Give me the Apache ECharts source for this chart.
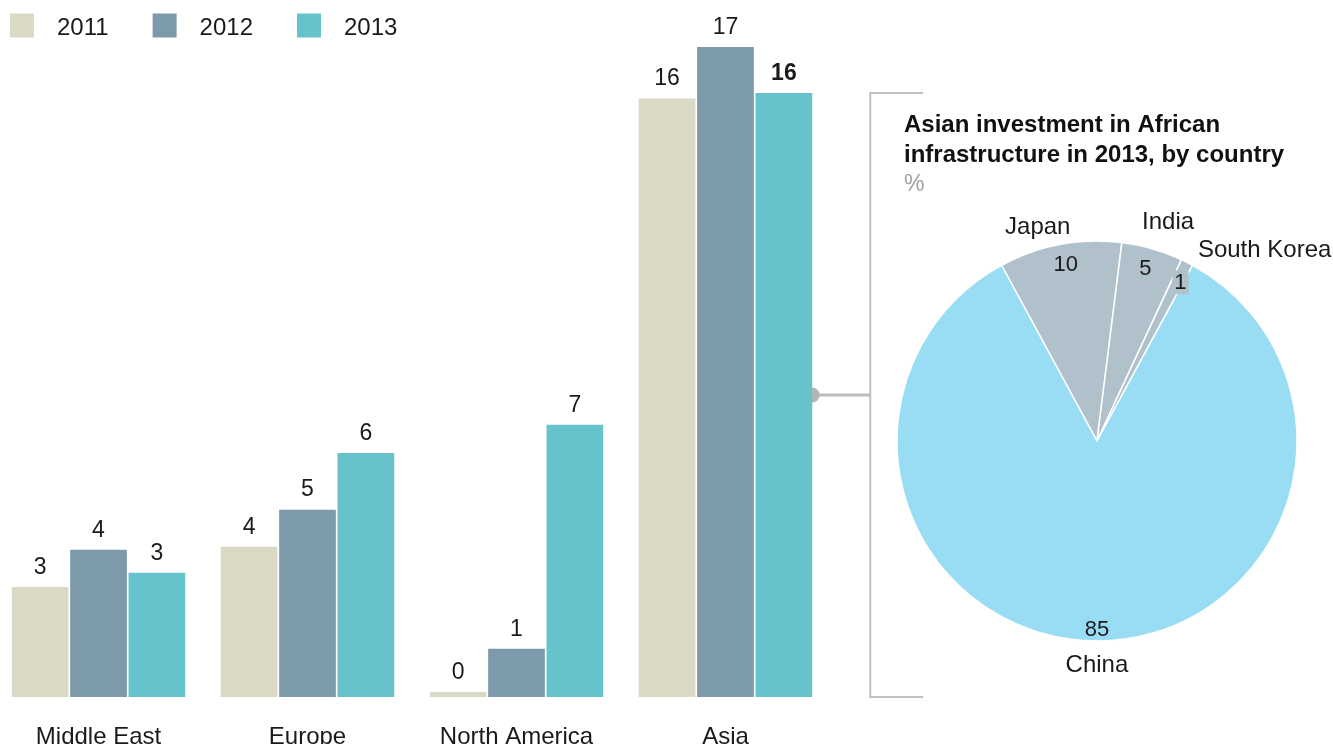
<!DOCTYPE html>
<html>
<head>
<meta charset="utf-8">
<script src="https://cdn.jsdelivr.net/npm/echarts@6/dist/echarts.min.js"></script>
<style>html,body{margin:0;padding:0;background:#fff}#c{width:1333px;height:744px}</style>
</head>
<body>
<div id="c"></div>
<script>
const regions = ['Middle East', 'Europe', 'North America', 'Asia'];
const years = ['2011', '2012', '2013'];
const v2011 = [2.88, 3.93, 0.13, 15.65];
const v2012 = [3.85, 4.9, 1.26, 17.0];
const v2013 = [3.25, 6.38, 7.12, 15.8];
const pieNames = ['Japan', 'India', 'South Korea', 'China'];
const pieValues = [10, 5, 1, 85];

const barColors = ['#d9d9c5', '#7d9aab', '#66c2cb'];
const FONT = "'Liberation Sans', Arial, sans-serif";
const gray = '#b1c1cc';
const pieColors = [gray, gray, gray, '#99ddf5'];

const chart = echarts.init(document.getElementById('c'));

function barSeries(name, vals, idx) {
  return {
    name: name, type: 'bar', barGap: '3%', barCategoryGap: '17%',
    itemStyle: { color: barColors[idx] },
    label: { show: true, position: 'top', distance: 8, fontSize: 23, color: '#1a1a1a', fontFamily: FONT,
             formatter: p => Math.round(p.value) },
    data: vals.map((v, i) => (idx === 2 && i === 3) ? { value: v, label: { fontWeight: 'bold' } } : v),
    silent: true
  };
}

const startAngle = 118.5;
// [padding left, padding right, vertical shift in px (+ down / - up)]
const nameShift = [[0, 34, 10], [16, 0, 0], [130, 0, 13], [0, 0, -4]];
const valShift = [[6, 0], [0, 6], [0, 0], [0, 0]];

function shifted(text, d) {
  if (d > 0) return '{s|}\n{t|' + text + '}';
  if (d < 0) return '{t|' + text + '}\n{s|}';
  return '{t|' + text + '}';
}
function spacerH(d) { return Math.max(1, Math.abs(d) * 2); }

chart.setOption({
  animation: false,
  textStyle: { fontFamily: FONT },
  legend: {
    left: 10, top: 9, padding: 0, itemWidth: 24, itemHeight: 24, itemGap: 44, icon: 'rect',
    formatter: name => '{s|}\n{a|' + name + '}',
    textStyle: {
      fontSize: 24, color: '#1a1a1a', fontFamily: FONT,
      rich: {
        a: { fontSize: 24, color: '#1a1a1a', fontFamily: FONT, lineHeight: 28, padding: [0, 0, 0, 18] },
        s: { fontSize: 1, lineHeight: 5, height: 5 }
      }
    },
    data: years
  },
  title: {
    left: 904, top: 110, padding: 0, itemGap: 0,
    text: 'Asian investment in African\ninfrastructure in 2013, by country',
    textStyle: { fontSize: 24, fontWeight: 'bold', color: '#111', lineHeight: 30, fontFamily: FONT },
    subtext: '%',
    subtextStyle: { fontSize: 23, color: '#a0a0a0', lineHeight: 30, fontFamily: FONT }
  },
  grid: { left: -6, width: 836, top: 47, height: 650, containLabel: false, outerBoundsMode: 'none' },
  xAxis: {
    type: 'category', data: regions,
    axisLine: { show: false }, axisTick: { show: false },
    axisLabel: { fontSize: 24, color: '#1a1a1a', margin: 28, fontFamily: FONT }
  },
  yAxis: { type: 'value', min: 0, max: 17, show: false, splitLine: { show: false } },
  series: [
    barSeries('2011', v2011, 0),
    barSeries('2012', v2012, 1),
    barSeries('2013', v2013, 2),
    {
      type: 'pie', center: [1097, 441], radius: [0, 200], startAngle: startAngle, clockwise: true,
      silent: true, label: { show: false }, labelLine: { show: false },
      itemStyle: { borderColor: '#fff', borderWidth: 1.5 },
      data: pieNames.map((n, i) => ({ name: n, value: pieValues[i], itemStyle: { color: pieColors[i] } }))
    },
    {
      type: 'pie', center: [1097, 441], radius: [165, 200], startAngle: startAngle, clockwise: true,
      silent: true, labelLine: { show: false },
      itemStyle: { color: 'rgba(0,0,0,0)' },
      label: {
        show: true, position: 'inside', fontSize: 22, color: '#1a1a1a', fontFamily: FONT,
        padding: [10, 0, 0, 0],
        formatter: p => p.dataIndex === 2 ? '{b|' + p.value + '}' : String(p.value),
        rich: { b: { fontSize: 22, color: '#1a1a1a', fontFamily: FONT, backgroundColor: gray, padding: [2, 2, 0, 2] } }
      },
      data: pieNames.map((n, i) => ({ name: n, value: pieValues[i],
        label: i === 2 ? { padding: [14, 0, 0, 0] } : (i === 3 ? { padding: [6, 0, 0, 0] } : { padding: [12, valShift[i][1], 0, valShift[i][0]] }) }))
    },
    {
      type: 'pie', center: [1097, 441], radius: [212, 238], startAngle: startAngle, clockwise: true,
      silent: true, labelLine: { show: false },
      itemStyle: { color: 'rgba(0,0,0,0)' },
      label: { show: true, position: 'inside', fontSize: 24, color: '#1a1a1a', fontFamily: FONT },
      data: pieNames.map((n, i) => ({
        name: n, value: pieValues[i],
        label: {
          formatter: shifted(n, nameShift[i][2]),
          padding: [0, nameShift[i][1], 0, nameShift[i][0]],
          rich: {
            t: { fontSize: 24, color: '#1a1a1a', fontFamily: FONT, lineHeight: 28 },
            s: { fontSize: 1, lineHeight: spacerH(nameShift[i][2]), height: spacerH(nameShift[i][2]) }
          }
        }
      }))
    }
  ]
});

// Bracket linking the Asia 2013 bar to the pie, positioned from the bar's own layout
const lay = chart.getModel().getSeriesByIndex(2).getData().getItemLayout(3);
const barRight = lay.x + lay.width;
const yTop = Math.min(lay.y, lay.y + lay.height);
const yBot = Math.max(lay.y, lay.y + lay.height);
const yMid = (yTop + yBot) / 2;
const bx = barRight + 58;
const lineStyle = { stroke: '#c0c0c0', lineWidth: 2, fill: null };
chart.setOption({
  graphic: [
    { type: 'polyline', shape: { points: [[bx + 53, yTop], [bx, yTop], [bx, yBot], [bx + 53, yBot]] }, style: lineStyle, silent: true },
    { type: 'line', shape: { x1: barRight, y1: yMid, x2: bx, y2: yMid }, style: { stroke: '#bdbdbd', lineWidth: 3 }, silent: true },
    { type: 'circle', shape: { cx: barRight, cy: yMid, r: 7.5 }, style: { fill: '#b5b5b5' }, silent: true }
  ]
});
</script>
</body>
</html>
